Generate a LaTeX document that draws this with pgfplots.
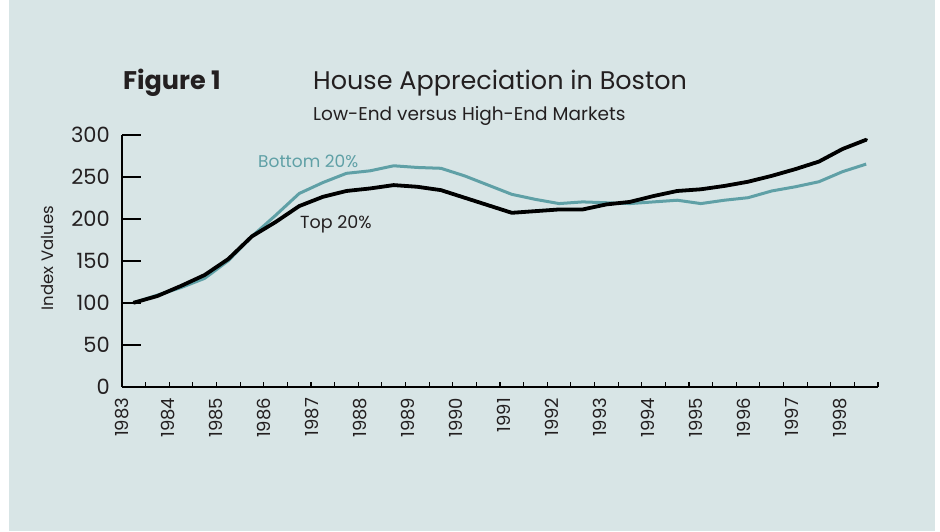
\documentclass[border=0pt]{standalone}
\usepackage{pgfplots}
\usepackage{pgfplotstable}
\pgfplotsset{compat=1.18}
\usepackage{fontspec}
\setmainfont{Poppins}
\definecolor{bgpanel}{HTML}{D8E5E6}
\definecolor{lowend}{HTML}{5FA0A6}
\definecolor{ink}{HTML}{231F20}

\pgfplotstableread{
year top bottom
1983.25 100 100
1983.75 108 109
1984.25 120 118
1984.75 133 129
1985.25 152 150
1985.75 179 179
1986.25 196 204
1986.75 215 230
1987.25 226 243
1987.75 233 254
1988.25 236 257
1988.75 240 263
1989.25 238 261
1989.75 234 260
1990.25 225 251
1990.75 216 240
1991.25 207 229
1991.75 209 223
1992.25 211 218
1992.75 211 220
1993.25 217 219
1993.75 220 218
1994.25 227 220
1994.75 233 222
1995.25 235 218
1995.75 239 222
1996.25 244 225
1996.75 251 233
1997.25 259 238
1997.75 268 244
1998.25 283 256
1998.75 294 265
}\datatable

\begin{document}
\begin{tikzpicture}[x=1pt,y=1pt]
\path[use as bounding box, fill=white] (0,0) rectangle (940,531);
\fill[bgpanel] (9,0) rectangle (935,531);

\node[anchor=base west, inner sep=0pt, text=ink, font=\bfseries\fontsize{25.5}{28}\selectfont] at (123,441) {Figure 1};
\node[anchor=base west, inner sep=0pt, text=ink, font=\fontsize{25.5}{28}\selectfont] at (313,441) {House Appreciation in Boston};
\node[anchor=base west, inner sep=0pt, text=ink, font=\fontsize{18.5}{21}\selectfont] at (313,410) {Low-End versus High-End Markets};

\begin{axis}[
  at={(122pt,144.3pt)}, anchor=south west,
  scale only axis, width=756pt, height=252pt,
  xmin=1983, xmax=1999, ymin=0, ymax=300,
  axis x line=bottom, axis y line=left,
  axis line style={-, line width=1.6pt, draw=black},
  tick align=inside,
  major tick length=19pt, minor tick length=5pt,
  ytick={0,50,100,150,200,250,300},
  y tick style={line width=1.6pt, draw=black},
  xtick={1983,1983.974,1984.989,1986.005,1987.021,1988.037,1989.053,1990.069,1991.085,1992.101,1993.116,1994.132,1995.148,1996.164,1997.180,1998.196},
  xticklabels={1983,1984,1985,1986,1987,1988,1989,1990,1991,1992,1993,1994,1995,1996,1997,1998},
  major x tick style={draw=none},
  minor xtick={1983,1983.5,...,1999},
  minor x tick style={line width=1.2pt, draw=black},
  /pgf/number format/assume math mode=true,
  yticklabel style={font=\fontsize{21}{21}\selectfont, text=ink, anchor=east, inner sep=0pt, xshift=-12pt},
  xticklabel style={font=\fontsize{18}{18}\selectfont, text=ink, yshift=-11pt, rotate=90, anchor=east, inner sep=0pt},
  ylabel={Index Values},
  ylabel style={font=\fontsize{16.5}{16.5}\selectfont, text=ink, at={(axis description cs:-0.099,0.51)}, anchor=center},
  clip=false,
]
\addplot[lowend, line width=3pt, line join=round] table[x=year, y=bottom] {\datatable};
\addplot[black, line width=3.8pt, line join=round, line cap=round] table[x=year, y=top] {\datatable};
\end{axis}

\node[anchor=base west, inner sep=0pt, text=lowend, font=\fontsize{17}{20}\selectfont] at (258,363) {Bottom 20\%};
\node[anchor=base west, inner sep=0pt, text=ink, font=\fontsize{17.5}{20}\selectfont] at (300,302) {Top 20\%};
\end{tikzpicture}
\end{document}
